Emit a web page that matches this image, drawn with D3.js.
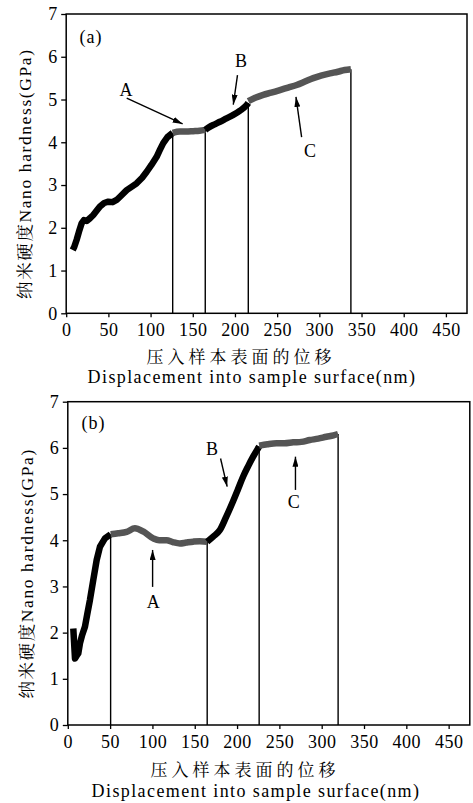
<!DOCTYPE html>
<html><head><meta charset="utf-8">
<script src="https://cdn.jsdelivr.net/npm/d3@7/dist/d3.min.js"></script>
<style>
html,body{margin:0;padding:0;background:#fff;}
svg text{font-family:"Liberation Serif","Times New Roman","Noto Serif CJK SC","Noto Sans CJK SC",serif;fill:#000;}
</style></head>
<body>
<svg id="chart" width="473" height="803"></svg>
<script>
// ---------- data ----------
const xTicks = [0,50,100,150,200,250,300,350,400,450];
const yTicks = [0,1,2,3,4,5,6,7];
const yLabel = "纳米硬度Nano hardness(GPa)";
const xLabelCn = "压入样本表面的位移";
const xLabelEn = "Displacement into sample surface(nm)";

// panel (a): [displacement nm, hardness GPa]
const aInitial = [[7.7,1.48],[9.5,1.55],[12.4,1.72],[15,1.9],[18.4,2.11],[21,2.18],[24.3,2.16],[28,2.22],[32.1,2.3],[36,2.4],[40,2.5],[45,2.58],[49.9,2.61],[55,2.6],[59.8,2.65],[65,2.75],[71.7,2.88],[77,2.95],[83.5,3.04],[90,3.17],[95.4,3.31],[101,3.47],[107.2,3.66],[111,3.82],[115,3.98],[120,4.12],[126.2,4.22]];
const aRegionA = [[126.2,4.22],[134.8,4.25],[142,4.25],[150.6,4.26],[158,4.27],[164.8,4.29]];
const aRegionB = [[164.8,4.29],[170,4.36],[176,4.42],[182.2,4.48],[190,4.56],[198,4.64],[206,4.74],[213.9,4.87],[215.8,4.92]];
const aRegionC = [[215.8,4.96],[224,5.04],[233.5,5.11],[243,5.16],[253.3,5.22],[263,5.28],[273.1,5.34],[283,5.42],[292.8,5.5],[302,5.56],[312.6,5.61],[322,5.65],[330,5.69],[337.4,5.71]];
const aBounds = [126.2,164.8,215.8,337.4];
const aBoundTops = [4.22,4.29,4.92,5.71];

// panel (b)
const bInitial = [[6.5,2.09],[8.5,1.44],[10.5,1.5],[12.4,1.55],[14.4,1.77],[17,1.95],[20.3,2.13],[23,2.4],[26.2,2.71],[30.1,3.14],[34.1,3.57],[38,3.86],[43.9,4.04],[50.6,4.13]];
const bRegionA = [[50.6,4.13],[59.6,4.15],[69.5,4.18],[79.3,4.26],[89.1,4.19],[100.9,4.04],[108,4.0],[116.8,4.0],[124,3.96],[132.5,3.93],[140,3.95],[148.2,3.97],[156,3.98],[164.7,3.97]];
const bRegionB = [[164.7,3.97],[171.8,4.08],[179.7,4.22],[187,4.5],[195.4,4.85],[201,5.1],[207.2,5.38],[213,5.6],[219,5.81],[226.1,6.03]];
const bRegionC = [[226.1,6.05],[236,6.08],[246.6,6.1],[256,6.1],[266.2,6.12],[276,6.13],[285.9,6.17],[296,6.2],[305.6,6.24],[314,6.27],[319.4,6.3]];
const bBounds = [50.6,164.7,226.1,319.4];
const bBoundTops = [4.13,3.97,6.03,6.3];

// annotations in data units: label, text pos, arrow start, arrow tip
const aNotes = [
  {t:"A", p:[70.9,5.22], s:[71.7,5.03], e:[138,4.43]},
  {t:"B", p:[207.1,5.9], s:[203,5.57], e:[198,4.88]},
  {t:"C", p:[288.9,3.8], s:[279,4.12], e:[272.3,5.06]}
];
const bNotes = [
  {t:"A", p:[100.9,2.66], s:[100.2,2.99], e:[100.2,3.79]},
  {t:"B", p:[170.3,5.98], s:[180.5,5.77], e:[188.3,5.16]},
  {t:"C", p:[267,4.83], s:[269,5.09], e:[269,5.81]}
];

const panels = [
  {tag:"(a)", tagPos:[29.4,6.48], segs:[aInitial,aRegionA,aRegionB,aRegionC], bounds:aBounds, tops:aBoundTops, notes:aNotes,
   left:66.2, right:467, top:14, bottom:313.3, ylabX:25, cnY:357, enY:383, cnX:241, enX:252},
  {tag:"(b)", tagPos:[30.3,6.54], segs:[bInitial,bRegionA,bRegionB,bRegionC], bounds:bBounds, tops:bBoundTops, notes:bNotes,
   left:67.8, right:469.8, top:401.7, bottom:725, ylabX:27, cnY:770, enY:797, cnX:245, enX:256}
];
const segColors = ["#000","#555","#000","#555"];

// ---------- drawing ----------
const svg = d3.select("#chart");
const defs = svg.append("defs");
defs.append("marker").attr("id","arr").attr("viewBox","0 0 10 6")
  .attr("refX",10).attr("refY",3).attr("markerWidth",10).attr("markerHeight",6)
  .attr("markerUnits","userSpaceOnUse").attr("orient","auto")
  .append("path").attr("d","M0,0 L10,3 L0,6 Z").attr("fill","#000");

panels.forEach(P => {
  const x = d3.scaleLinear().domain([0,475]).range([P.left,P.right]);
  const y = d3.scaleLinear().domain([0,7]).range([P.bottom,P.top]);
  const g = svg.append("g");

  const xa = g.append("g").attr("transform",`translate(0,${P.bottom})`)
    .call(d3.axisBottom(x).tickValues(xTicks).tickFormat(d3.format("d")).tickSize(4).tickSizeOuter(0).tickPadding(6));
  xa.attr("font-family",null);
  xa.select(".domain").remove();
  xa.selectAll("line").attr("stroke","#000").attr("stroke-width",1.3);
  xa.selectAll("text").attr("font-size",18).attr("letter-spacing","0.5px");

  const ya = g.append("g").attr("transform",`translate(${P.left},0)`)
    .call(d3.axisLeft(y).tickValues(yTicks).tickFormat(d3.format("d")).tickSize(5).tickSizeOuter(0).tickPadding(4));
  ya.attr("font-family",null);
  ya.select(".domain").remove();
  ya.selectAll("line").attr("stroke","#000").attr("stroke-width",1.3);
  ya.selectAll("text").attr("font-size",18);

  g.append("rect").attr("x",P.left).attr("y",P.top).attr("width",P.right-P.left).attr("height",P.bottom-P.top)
    .attr("fill","none").attr("stroke","#000").attr("stroke-width",1.5);

  g.selectAll(".bl").data(P.bounds).enter().append("line")
    .attr("x1",d=>x(d)).attr("x2",d=>x(d))
    .attr("y1",y(0)).attr("y2",(d,i)=>y(P.tops[i]))
    .attr("stroke","#000").attr("stroke-width",1.4);

  const line = d3.line().x(d=>x(d[0])).y(d=>y(d[1])).curve(d3.curveMonotoneX);
  const lineRaw = d3.line().x(d=>x(d[0])).y(d=>y(d[1]));
  P.segs.forEach((s,i) => {
    g.append("path").attr("d", i===0 ? lineRaw(s) : line(s)).attr("fill","none")
      .attr("stroke",segColors[i]).attr("stroke-width",6.5)
      .attr("stroke-linejoin","round").attr("stroke-linecap","butt");
  });

  g.append("text").attr("x",x(P.tagPos[0])).attr("y",y(P.tagPos[1])).attr("dy","0.35em")
    .attr("text-anchor","middle").attr("font-size",18).attr("letter-spacing","1px").text(P.tag);

  P.notes.forEach(n => {
    g.append("line").attr("x1",x(n.s[0])).attr("y1",y(n.s[1])).attr("x2",x(n.e[0])).attr("y2",y(n.e[1]))
      .attr("stroke","#000").attr("stroke-width",1.4).attr("marker-end","url(#arr)");
    g.append("text").attr("x",x(n.p[0])).attr("y",y(n.p[1])).attr("dy","0.35em")
      .attr("text-anchor","middle").attr("font-size",18).text(n.t);
  });

  g.append("text").attr("transform",`translate(${P.ylabX},${(P.top+P.bottom)/2+10}) rotate(-90)`)
    .attr("dy","0.35em").attr("text-anchor","middle").attr("font-size",17.5).attr("letter-spacing","1.6px").text(yLabel);
  g.append("text").attr("x",P.cnX).attr("y",P.cnY).attr("dy","0.35em").attr("text-anchor","middle")
    .attr("font-size",17).attr("letter-spacing","4px").text(xLabelCn);
  g.append("text").attr("x",P.enX).attr("y",P.enY).attr("text-anchor","middle")
    .attr("font-size",18).attr("letter-spacing","1.4px").text(xLabelEn);
});
</script>
</body></html>
